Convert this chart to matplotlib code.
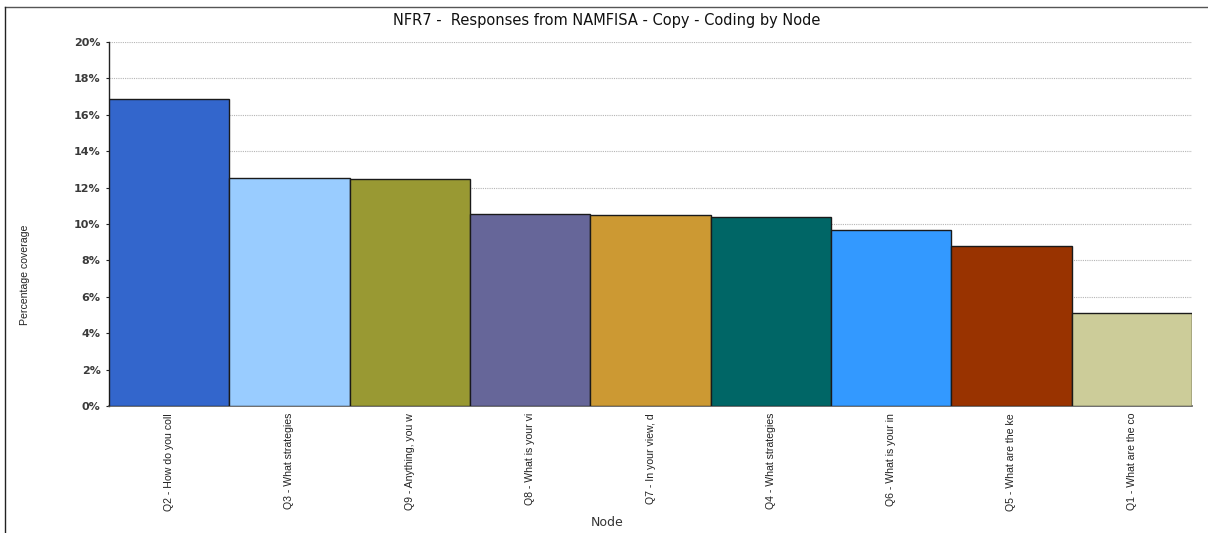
import matplotlib
matplotlib.use("Agg")
import matplotlib.pyplot as plt
from matplotlib.lines import Line2D
from matplotlib.ticker import FuncFormatter, MultipleLocator

nodes = ["Q2 - How do you coll", "Q3 - What strategies", "Q9 - Anything, you w",
         "Q8 - What is your vi", "Q7 - In your view, d", "Q4 - What strategies",
         "Q6 - What is your in", "Q5 - What are the ke", "Q1 - What are the co"]
coverage = [16.85, 12.55, 12.5, 10.56, 10.5, 10.37, 9.69, 8.8, 5.13]
colors = ["#3366CC", "#99CCFF", "#999933", "#666699", "#CC9933",
          "#006666", "#3399FF", "#993300", "#CCCC99"]

W, H = 1208, 533
fig = plt.figure(figsize=(W / 100, H / 100), dpi=100)
ax = fig.add_axes([109 / W, (H - 406) / H, (1192 - 109) / W, (406 - 42) / H])

x = list(range(len(nodes)))
ax.bar(x, coverage, width=1.0, color=colors, edgecolor="#1a1a1a", linewidth=1.0, zorder=3)

ax.set_xlim(-0.5, len(nodes) - 0.5)
ax.set_ylim(0, 20)
ax.yaxis.set_major_locator(MultipleLocator(2))
ax.yaxis.set_major_formatter(FuncFormatter(lambda v, p: f"{v:.0f}%"))
ax.grid(axis="y", color="#b5b5b5", linestyle=(0, (1, 1)), linewidth=0.8, zorder=0)

for s in ["top", "right"]:
    ax.spines[s].set_visible(False)
ax.spines["left"].set_color("#222222")
ax.spines["bottom"].set_color("#555555")
ax.spines["left"].set_linewidth(1.0)
ax.spines["bottom"].set_linewidth(1.2)

ax.tick_params(axis="y", length=2, color="#222222", pad=4)
ax.tick_params(axis="x", length=0, pad=5)
for lab in ax.get_yticklabels():
    lab.set_fontfamily("DejaVu Sans")
    lab.set_fontweight("bold")
    lab.set_fontsize(8)
    lab.set_color("#3a3a3a")

ax.set_xticks(x)
ax.set_xticklabels(nodes, rotation=90, va="top", ha="center",
                   fontfamily="Liberation Sans", fontsize=7.6, color="#222222")

fig.text(607 / W, 1 - 20 / H, "NFR7 -  Responses from NAMFISA - Copy - Coding by Node",
         ha="center", va="center", fontfamily="DejaVu Sans", fontsize=10.5, color="#111111")
fig.text(607 / W, 1 - 522 / H, "Node", ha="center", va="center",
         fontfamily="DejaVu Sans", fontsize=9, color="#333333")
fig.text(25 / W, 1 - 275 / H, "Percentage coverage", ha="center", va="center",
         rotation=90, fontfamily="Liberation Sans", fontsize=7.6, color="#222222")

# outer frame along top and left edges
fig.add_artist(Line2D([5 / W, 1.0], [1 - 7 / H, 1 - 7 / H], color="#555555", linewidth=1.0,
                      transform=fig.transFigure))
fig.add_artist(Line2D([5 / W, 5 / W], [0, 1 - 7 / H], color="#222222", linewidth=1.0,
                      transform=fig.transFigure))

fig.savefig("out.png", dpi=100)
